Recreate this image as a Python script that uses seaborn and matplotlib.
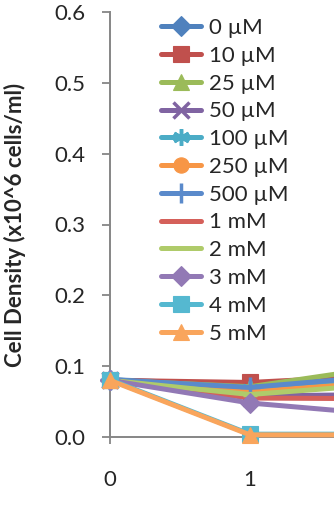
import matplotlib
matplotlib.use("Agg")
import matplotlib.pyplot as plt
import matplotlib.transforms as mtransforms
import seaborn as sns
import pandas as pd

sns.set_style("white")
plt.rcParams['font.family'] = ['Lato', 'DejaVu Sans']

days = [0, 1, 2]
labels = ["0 µM", "10 µM", "25 µM", "50 µM", "100 µM", "250 µM",
          "500 µM", "1 mM", "2 mM", "3 mM", "4 mM", "5 mM"]
values = {
    "0 µM":   [0.081, 0.073, 0.085],
    "10 µM":  [0.080, 0.077, 0.087],
    "25 µM":  [0.080, 0.071, 0.100],
    "50 µM":  [0.080, 0.058, 0.060],
    "100 µM": [0.081, 0.068, 0.080],
    "250 µM": [0.080, 0.064, 0.078],
    "500 µM": [0.081, 0.070, 0.087],
    "1 mM":   [0.080, 0.055, 0.054],
    "2 mM":   [0.080, 0.060, 0.075],
    "3 mM":   [0.080, 0.048, 0.031],
    "4 mM":   [0.081, 0.004, 0.004],
    "5 mM":   [0.080, 0.003, 0.003],
}
yerr_day1 = {"10 µM": 0.004, "3 mM": 0.004}
xticks = [0, 1, 2]
yticks = [0.0, 0.1, 0.2, 0.3, 0.4, 0.5, 0.6]

colors = ["#4F81BD", "#C0504D", "#9BBB59", "#8064A2", "#4BACC6", "#F79646",
          "#5A8ACB", "#D5605A", "#AFCB6A", "#9279B5", "#55B8D0", "#F9A55C"]
markers = ["D", "s", "^", "x", (6, 2, 0), "o", "+", "_", "_", "D", "s", "^"]
msizes = [10, 11, 11, 11, 12, 11, 14, 10, 10, 10, 11, 12]

rows = []
for lab in labels:
    for d, v in zip(days, values[lab]):
        rows.append({"day": d, "density": v, "conc": lab})
df = pd.DataFrame(rows)

fig = plt.figure(figsize=(3.34, 5.12), dpi=100)
ax = fig.add_axes([110/334, 75/512, (334-110)/334, (437-12)/512])

for lab, c, m, ms in zip(labels, colors, markers, msizes):
    sub = df[df["conc"] == lab]
    if lab in yerr_day1:
        ax.errorbar([1], [values[lab][1]], yerr=[yerr_day1[lab]], fmt='none',
                    ecolor='black', elinewidth=1.2, capsize=5, capthick=1.5, zorder=1)
    lined = m in ("x", "+", "_", (6, 2, 0))
    sns.lineplot(data=sub, x="day", y="density", ax=ax, color=c, marker=m,
                 markersize=ms, markeredgecolor=c,
                 markeredgewidth=2.5 if lined else 0.8,
                 linewidth=3.6, label=lab, clip_on=False, zorder=3)

ax.set_xticks(xticks)
ax.set_xticklabels([str(t) for t in xticks])
ax.set_yticks(yticks)
ax.set_yticklabels([f"{t:.1f}" for t in yticks])
ax.set_xlim(0, 1.6)
ax.set_ylim(0, 0.6)
ax.set_xlabel("")
ax.set_ylabel("Cell Density (x10^6 cells/ml)", fontsize=16, fontweight='bold')
ax.yaxis.set_label_coords(26/334, 0.5)
ax.yaxis.label.set_transform(mtransforms.blended_transform_factory(fig.transFigure, ax.transAxes))

for s in ["top", "right"]:
    ax.spines[s].set_visible(False)
for s in ["left", "bottom"]:
    ax.spines[s].set_color("#868686")
    ax.spines[s].set_linewidth(1.4)
ax.tick_params(axis='y', direction='out', length=5.5, width=1.3, color="#868686",
               labelsize=16, pad=12, left=True)
ax.tick_params(axis='x', direction='out', length=5, width=1.3, color="#868686",
               labelsize=16, pad=19, bottom=True)
ax.grid(False)

leg = ax.legend(loc='upper left', bbox_to_anchor=(161/334, 1 - 18/512),
                bbox_transform=fig.transFigure, frameon=False, fontsize=16,
                handlelength=1.8, handletextpad=0.36, labelspacing=0.35,
                borderpad=0, borderaxespad=0)

fig.savefig("out.png", dpi=100)
